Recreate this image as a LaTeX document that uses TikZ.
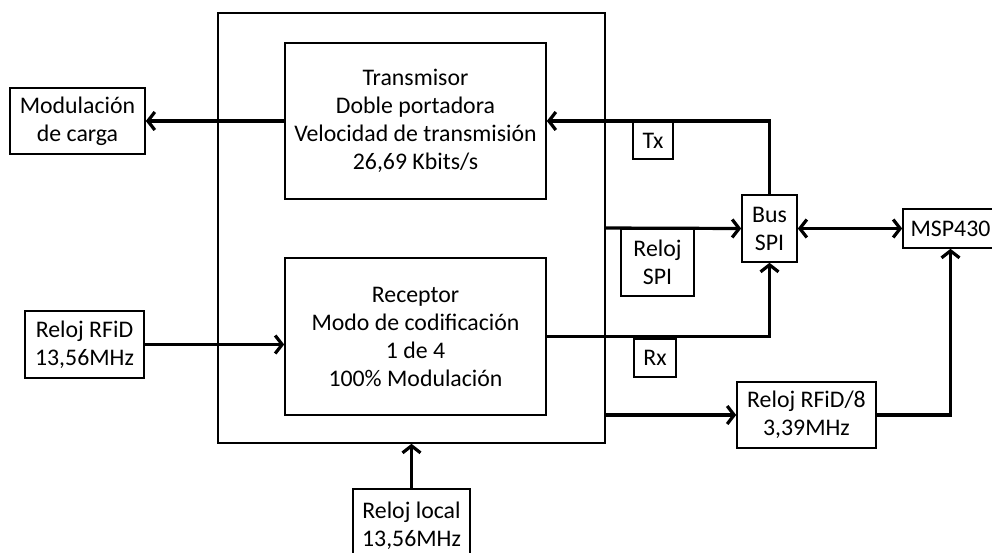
\documentclass[tikz,border=0pt]{standalone}
\usepackage{fontspec}
\setmainfont{Carlito}
\usetikzlibrary{arrows.meta}
\begin{document}
\begin{tikzpicture}[x=1pt,y=-1pt,
  font=\fontsize{23.8}{28}\selectfont,
  blk/.style={draw, line width=1.6pt, align=center, inner sep=0pt},
  conn/.style={line width=3.2pt, -{Straight Barb[length=7pt,width=18pt]}},
  biconn/.style={line width=3.2pt, {Straight Barb[length=7pt,width=18pt]}-{Straight Barb[length=7pt,width=18pt]}}]
  \useasboundingbox (0,0) rectangle (992,552);
  \clip (0,0) rectangle (992,552);
  \fill[white] (0,0) rectangle (992,552);

  % chip outline and its two internal blocks
  \node[blk, minimum width=387pt, minimum height=430pt] (chip) at (411.5,228) {};
  \node[blk, minimum width=261pt, minimum height=156pt] (trans) at (415.5,121)
    {Transmisor\\Doble portadora\\Velocidad de transmisión\\26,69 Kbits/s};
  \node[blk, minimum width=261pt, minimum height=157pt] (recep) at (415.5,336.5)
    {Receptor\\Modo de codificación\\1 de 4\\100\% Modulación};

  % external blocks
  \node[blk, minimum width=135pt, minimum height=66pt] (mod) at (77.5,121) {Modulación\\de carga};
  \node[blk, minimum width=119pt, minimum height=67pt] (rfid) at (84.5,344.5) {Reloj RFiD\\13,56MHz};
  \node[blk, minimum width=117pt, minimum height=74pt] (local) at (411.5,526) {Reloj local\\13,56MHz};
  \node[blk, minimum width=55pt, minimum height=67pt] (bus) at (769.5,228.5) {Bus\\SPI};
  \node[blk, minimum width=95pt, minimum height=39pt] (msp) at (950.5,228.5) {MSP430};
  \node[blk, minimum width=139pt, minimum height=66pt] (rf8) at (806.5,415) {Reloj RFiD/8\\3,39MHz};

  % signal labels
  \node[blk, minimum width=40pt, minimum height=37pt] (tx) at (653,140.5) {Tx};
  \node[blk, minimum width=73pt, minimum height=67pt] (rspi) at (657.5,262.5) {Reloj\\SPI};
  \node[blk, minimum width=42pt, minimum height=38pt] (rx) at (655,358) {Rx};

  % connections
  \draw[conn] (trans.west) -- (mod.east);
  \draw[conn] (bus.north) |- (trans.east);
  \draw[conn] (chip.east) -- (bus.west);
  \draw[conn] (recep.east) -| (bus.south);
  \draw[conn] (rfid.east) -- (rfid.east -| recep.west);
  \draw[conn] (local.north) -- (chip.south);
  \draw[conn] (rf8.west -| chip.east) -- (rf8.west);
  \draw[conn] (rf8.east) -| (msp.south);
  \draw[biconn] (bus.east) -- (msp.west);
\end{tikzpicture}
\end{document}
